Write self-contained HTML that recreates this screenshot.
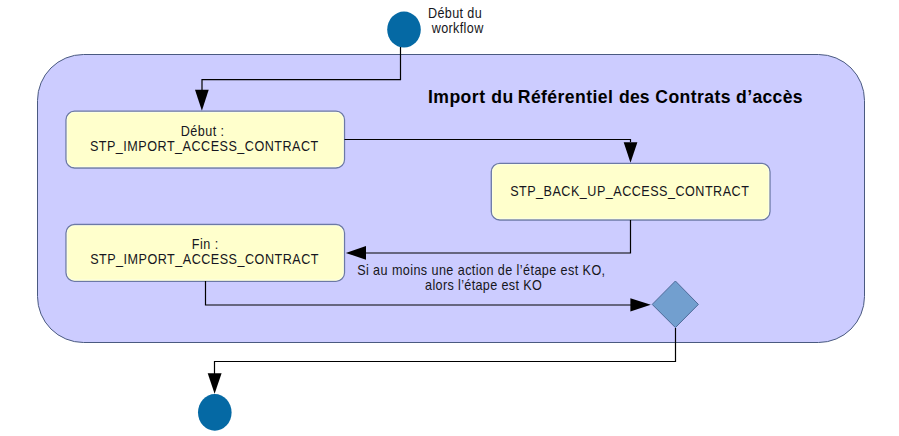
<!DOCTYPE html>
<html>
<head>
<meta charset="utf-8">
<style>
html,body{margin:0;padding:0;background:#ffffff;width:899px;height:436px;overflow:hidden;}
svg{display:block;}
text{font-family:"Liberation Sans",sans-serif;fill:#161620;}
.ttl text{fill:#000;}
</style>
</head>
<body>
<svg width="899" height="436" viewBox="0 0 899 436">
  <!-- outer container -->
  <rect x="37.5" y="54.5" width="827" height="288" rx="46" ry="46" fill="#ccccff" stroke="#4a5a80" stroke-width="1"/>

  <!-- start node -->
  <ellipse cx="404" cy="29.6" rx="16.8" ry="18" fill="#0569a4"/>
  <text id="t1" transform="scale(0.9 1)" x="475.55" y="17.8" font-size="14" textLength="59.62" lengthAdjust="spacing">Début du</text>
  <text id="t2" transform="scale(0.9 1)" x="479.69" y="32.8" font-size="14" textLength="57.25" lengthAdjust="spacing">workflow</text>

  <!-- title -->
  <g class="ttl" font-size="17.6" font-weight="bold">
    <text id="w1" x="427.94" y="103" textLength="57.06" lengthAdjust="spacing">Import</text>
    <text id="w2" x="491.30" y="103" textLength="21.95" lengthAdjust="spacing">du</text>
    <text id="w3" x="517.81" y="103" textLength="94.98" lengthAdjust="spacing">Référentiel</text>
    <text id="w4" x="619.10" y="103" textLength="30.51" lengthAdjust="spacing">des</text>
    <text id="w5" x="655.25" y="103" textLength="75.36" lengthAdjust="spacing">Contrats</text>
    <text id="w6" x="736.11" y="103" textLength="66.50" lengthAdjust="spacing">d’accès</text>
  </g>

  <!-- start line -->
  <path d="M400.5 47 V79.6 H202 V90" fill="none" stroke="#000" stroke-width="1.2"/>
  <polygon points="195,89.7 208.7,89.7 201.9,110.8" fill="#000"/>

  <!-- box 1 -->
  <rect x="66.0" y="111.2" width="278.5" height="56.8" rx="8.5" ry="8.5" fill="#ffffcc" stroke="#6c79a6" stroke-width="1.3"/>
  <rect x="67.3" y="112.5" width="275.9" height="54.2" rx="7.3" ry="7.3" fill="none" stroke="#fafff0" stroke-width="1" stroke-opacity="0.7"/>
  <text id="t3" transform="scale(0.9 1)" x="200.95" y="135.8" font-size="14" textLength="47.91" lengthAdjust="spacing">Début :</text>
  <text id="t4" transform="scale(0.9 1)" x="99.88" y="150.9" font-size="14" textLength="253.71" lengthAdjust="spacing">STP_IMPORT_ACCESS_CONTRACT</text>

  <!-- line box1 -> box2 -->
  <path d="M344.5 139.5 H630.5 V142" fill="none" stroke="#000" stroke-width="1.2"/>
  <polygon points="623.7,142.2 637.4,142.2 630.5,162.8" fill="#000"/>

  <!-- box 2 -->
  <rect x="491.3" y="163.3" width="278.7" height="56.7" rx="8.5" ry="8.5" fill="#ffffcc" stroke="#6c79a6" stroke-width="1.3"/>
  <rect x="492.6" y="164.6" width="276.1" height="54.1" rx="7.3" ry="7.3" fill="none" stroke="#fafff0" stroke-width="1" stroke-opacity="0.7"/>
  <text id="t5" transform="scale(0.9 1)" x="566.84" y="195.7" font-size="14" textLength="265.22" lengthAdjust="spacing">STP_BACK_UP_ACCESS_CONTRACT</text>

  <!-- line box2 -> box3 -->
  <path d="M630.5 220 V253 H366" fill="none" stroke="#000" stroke-width="1.2"/>
  <polygon points="366,246 366,259.8 345.8,252.9" fill="#000"/>

  <!-- box 3 -->
  <rect x="66.0" y="224.5" width="278.5" height="56.8" rx="8.5" ry="8.5" fill="#ffffcc" stroke="#6c79a6" stroke-width="1.3"/>
  <rect x="67.3" y="225.8" width="275.9" height="54.2" rx="7.3" ry="7.3" fill="none" stroke="#fafff0" stroke-width="1" stroke-opacity="0.7"/>
  <text id="t6" transform="scale(0.9 1)" x="213.17" y="248.9" font-size="14" textLength="29.34" lengthAdjust="spacing">Fin :</text>
  <text id="t7" transform="scale(0.9 1)" x="100.15" y="263.9" font-size="14" textLength="253.63" lengthAdjust="spacing">STP_IMPORT_ACCESS_CONTRACT</text>

  <!-- note -->
  <text id="t8" transform="scale(0.9 1)" x="396.82" y="274.9" font-size="14" textLength="275.55" lengthAdjust="spacing">Si au moins une action de l’étape est KO,</text>
  <text id="t9" transform="scale(0.9 1)" x="472.27" y="289.9" font-size="14" textLength="129.65" lengthAdjust="spacing">alors l’étape est KO</text>

  <!-- line box3 -> diamond -->
  <path d="M205.5 281 V305 H631" fill="none" stroke="#000" stroke-width="1.2"/>
  <polygon points="630.4,298.2 630.4,311.6 650.8,304.8" fill="#000"/>

  <!-- diamond -->
  <polygon points="652.2,304.4 675.4,281 698.4,304.4 675.4,327.6" fill="#729fcf" stroke="#4d6a98" stroke-width="1"/>

  <!-- line diamond -> end -->
  <path d="M675.5 328 V361.5 H214.5 V374" fill="none" stroke="#000" stroke-width="1.2"/>
  <polygon points="207.7,373.2 221.6,373.2 214.6,393.8" fill="#000"/>

  <!-- end node -->
  <ellipse cx="214.8" cy="412.4" rx="16.8" ry="18.3" fill="#0569a4"/>
</svg>
</body>
</html>
